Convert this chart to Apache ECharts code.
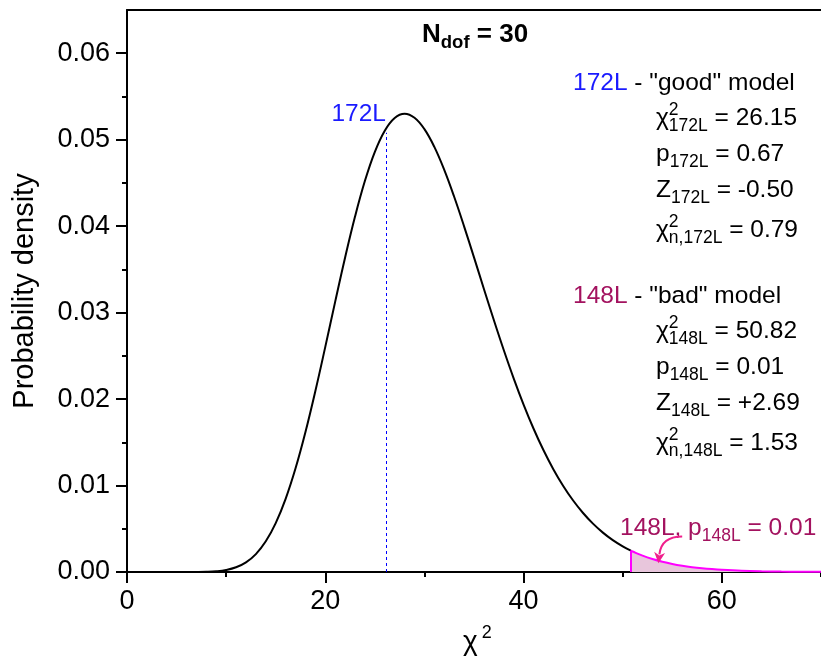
<!DOCTYPE html>
<html><head><meta charset="utf-8">
<script src="https://cdn.jsdelivr.net/npm/echarts@6/dist/echarts.min.js"></script>
<style>html,body{margin:0;padding:0;background:#fff}#c{width:821px;height:658px}</style>
</head><body><div id="c"></div>
<script>
// ---- data ----
const chi2Values = [0,1,2,3,4,5,6,7,8,9,10,11,12,13,14,15,16,17,18,19,20,21,22,23,24,25,26,27,28,29,30,31,32,33,34,35,36,37,38,39,40,41,42,43,44,45,46,47,48,49,50,51,52,53,54,55,56,57,58,59,60,62,64,66,68,70];
const densityValues = [0,0,0,0,0.00000001,0.0000002,0.0000014,0.0000072,0.0000282,0.000089,0.000236,0.000543,0.001114,0.002072,0.003547,0.005652,0.008462,0.011993,0.016192,0.020936,0.026038,0.031269,0.036376,0.041109,0.045244,0.048598,0.051043,0.052511,0.053000,0.052534,0.051217,0.049163,0.046507,0.043398,0.039979,0.036386,0.032739,0.029141,0.025675,0.022403,0.019368,0.016599,0.014108,0.011895,0.009954,0.008270,0.006823,0.005592,0.004555,0.003687,0.002967,0.002375,0.001890,0.001497,0.001180,0.000925,0.000722,0.000561,0.000434,0.000334,0.000257,0.000149,0.0000857,0.0000485,0.0000271,0.000015];
const chi2Good = 26.15, densityGoodLineTop = 0.0508;
const chi2Bad = 50.82, densityBad = 0.002473;
const xMajorTicks = [0,20,40,60];
const xMinorTicks = [10,30,50,70];
const yMajorTicks = [0,0.01,0.02,0.03,0.04,0.05,0.06];
const yMinorTicks = [0.005,0.015,0.025,0.035,0.045,0.055];
// arrow annotation anchor points (data coordinates)
const arrowStart = [56.0, 0.0041], arrowCtrl = [53.9, 0.0041], arrowTip = [53.6, 0.0010];

const FONT = '"Liberation Sans", Arial, sans-serif';
const BLUE = '#1a1aff', MAG = '#a3125f', PINK = '#ff00ff', ARROW = '#f0208c';

const mainData = [], tailData = [[chi2Bad, densityBad]];
chi2Values.forEach((x,i)=>{ if (x < chi2Bad) mainData.push([x, densityValues[i]]); else tailData.push([x, densityValues[i]]); });
mainData.push([chi2Bad, densityBad]);

const ctx = document.createElement('canvas').getContext('2d');
function measure(t, size, bold){ ctx.font = (bold?'bold ':'') + size + 'px ' + FONT; return ctx.measureText(t).width; }
function midOffset(size, bold){
  ctx.font = (bold?'bold ':'') + size + 'px ' + FONT; ctx.textBaseline = 'middle';
  const m = ctx.measureText('Hg'); ctx.textBaseline = 'alphabetic';
  if (m.alphabeticBaseline !== undefined && m.alphabeticBaseline !== 0) return Math.abs(m.alphabeticBaseline);
  return 0.34*size;
}
const graphics = [];
const MS = 24.5, SS = 17.5;
function textLine(x, base, segs){
  let cx = x;
  segs.forEach(s=>{
    const size = s.size || MS, bold = !!s.bold;
    cx += (s.dx || 0);
    graphics.push({type:'text', silent:true, x:cx, y: base + (s.dy||0) - midOffset(size,bold), z:10,
      style:{text:s.t, fontSize:size, fontFamily:FONT, fontWeight: bold?'bold':'normal', fill:s.c||'#000', align:'left', verticalAlign:'middle'}});
    if (!s.noAdv) cx += measure(s.t, size, bold);
  });
}
// title
textLine(422, 42, [{t:'N',size:26,bold:true},{t:'dof',size:18.5,bold:true,dy:6},{t:' = 30',size:26,bold:true}]);
// model blocks
function block(y0, name, col, desc, sub, vals){
  textLine(573, y0, [{t:name,c:col},{t:desc}]);
  textLine(656, y0+35, [{t:'χ'},{t:'2',size:SS,dy:-10,noAdv:true},{t:sub,size:SS,dy:6},{t:' = '+vals[0]}]);
  textLine(656, y0+71, [{t:'p'},{t:sub,size:SS,dy:6},{t:' = '+vals[1]}]);
  textLine(656, y0+107, [{t:'Z'},{t:sub,size:SS,dy:6},{t:' = '+vals[2]}]);
  textLine(656, y0+147, [{t:'χ'},{t:'2',size:SS,dy:-10,noAdv:true},{t:'n,'+sub,size:SS,dy:6},{t:' = '+vals[3]}]);
}
block(90, '172L', BLUE, ' - "good" model', '172L', ['26.15','0.67','-0.50','0.79']);
block(303, '148L', MAG, ' - "bad" model', '148L', ['50.82','0.01','+2.69','1.53']);
// 172L label near dashed line
textLine(386 - measure('172L',MS), 121, [{t:'172L',c:BLUE}]);
// tail annotation
textLine(620, 535, [{t:'148L, p',c:MAG},{t:'148L',size:SS,dy:6,c:MAG},{t:' = 0.01',c:MAG}]);
// x axis title
textLine(463, 650, [{t:'χ',size:28},{t:'2',size:18,dy:-12,dx:4}]);

const chart = echarts.init(document.getElementById('c'), null, {renderer:'canvas'});
const axLine = {show:true, lineStyle:{color:'#000', width:2}};
const tickStyle = {color:'#000', width:2};
chart.setOption({
  animation:false,
  backgroundColor:'#fff',
  grid:{left:127, right:-1, top:10, bottom:86},
  xAxis:[
    {type:'value', min:0, max:70, position:'bottom', axisLine:axLine,
     axisTick:{show:true, length:11, lineStyle:tickStyle, customValues:xMajorTicks},
     axisLabel:{customValues:xMajorTicks, fontSize:27, fontFamily:FONT, color:'#000', margin:16},
     splitLine:{show:false}},
    {type:'value', min:0, max:70, position:'bottom', axisLine:{show:false},
     axisTick:{show:true, length:5, lineStyle:tickStyle, customValues:xMinorTicks},
     axisLabel:{show:false}, splitLine:{show:false}},
    {type:'value', min:0, max:70, position:'top', axisLine:axLine,
     axisTick:{show:false}, axisLabel:{show:false}, splitLine:{show:false}}
  ],
  yAxis:[
    {type:'value', min:0, max:0.065, position:'left', axisLine:axLine,
     axisTick:{show:true, length:11, lineStyle:tickStyle, customValues:yMajorTicks},
     axisLabel:{customValues:yMajorTicks, fontSize:27, fontFamily:FONT, color:'#000', margin:17,
       formatter:v=>Number(v).toFixed(2)},
     splitLine:{show:false},
     name:'Probability density', nameLocation:'middle', nameRotate:90, nameGap:88,
     nameTextStyle:{fontSize:29, fontFamily:FONT, color:'#000'}},
    {type:'value', min:0, max:0.065, position:'left', axisLine:{show:false},
     axisTick:{show:true, length:5, lineStyle:tickStyle, customValues:yMinorTicks},
     axisLabel:{show:false}, splitLine:{show:false}}
  ],
  series:[
    {type:'line', xAxisIndex:0, yAxisIndex:0, data:tailData, showSymbol:false, smooth:0.4,
     lineStyle:{color:PINK, width:2}, areaStyle:{color:'#e8c6dc', opacity:1}, z:2,
     markLine:{silent:true, symbol:'none', label:{show:false}, lineStyle:{color:PINK, type:'solid', width:2},
       data:[[{coord:[chi2Bad,0]},{coord:[chi2Bad,densityBad]}]]}},
    {type:'line', xAxisIndex:0, yAxisIndex:0, data:mainData, showSymbol:false, smooth:0.4,
     lineStyle:{color:'#000', width:2}, z:3,
     markLine:{silent:true, symbol:'none', label:{show:false}, lineStyle:{color:'#0000ff', type:[3,3], width:1},
       data:[[{coord:[chi2Good,0]},{coord:[chi2Good,densityGoodLineTop]}]]}}
  ],
  graphic: graphics
});
// arrow
const P = p => chart.convertToPixel({xAxisIndex:0, yAxisIndex:0}, p);
const s = P(arrowStart), c = P(arrowCtrl), t = P(arrowTip);
let dx = t[0]-c[0], dy = t[1]-c[1]; const L = Math.hypot(dx,dy); dx/=L; dy/=L;
const hl = 11, hw = 5.5;
const base = [t[0]-dx*hl, t[1]-dy*hl];
graphics.push({type:'bezierCurve', silent:true, z:11, shape:{x1:s[0], y1:s[1], cpx1:c[0], cpy1:c[1], x2:base[0]+dx*2, y2:base[1]+dy*2},
  style:{stroke:ARROW, lineWidth:2, fill:null}});
graphics.push({type:'polygon', silent:true, z:11, shape:{points:[t, [base[0]-dy*hw, base[1]+dx*hw], [base[0]+dx*3, base[1]+dy*3], [base[0]+dy*hw, base[1]-dx*hw]]},
  style:{fill:ARROW}});
chart.setOption({graphic: graphics});
</script></body></html>
